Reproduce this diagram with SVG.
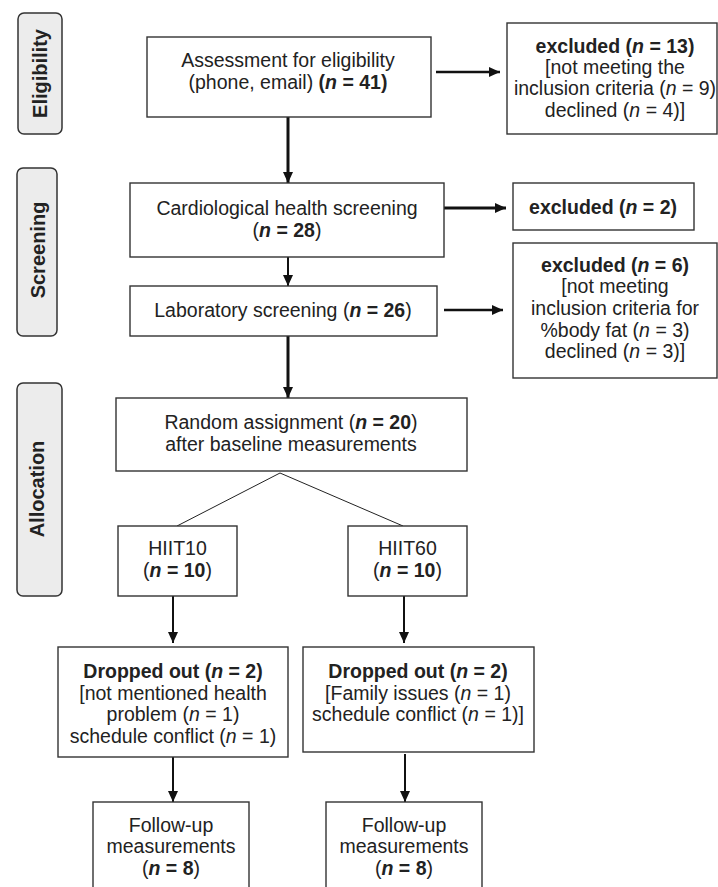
<svg xmlns="http://www.w3.org/2000/svg" width="718" height="887" viewBox="0 0 718 887">
<style>
  .box{fill:#fff;stroke:#333;stroke-width:1.4}
  .lab{fill:#ececec;stroke:#333;stroke-width:1.5}
  .t{font-family:"Liberation Sans",Arial,sans-serif;font-size:19.5px;fill:#222;text-anchor:middle}
  .lt{font-family:"Liberation Sans",Arial,sans-serif;font-size:20px;font-weight:bold;fill:#222;text-anchor:middle}
  .b{font-weight:bold}
  .i{font-style:italic}
  .a{stroke:#111;fill:none}
  .thin{stroke:#222;stroke-width:1;fill:none}
</style>
<defs>
  <marker id="ah" markerUnits="userSpaceOnUse" markerWidth="12" markerHeight="12" viewBox="0 0 12 12" refX="11" refY="6" orient="auto">
    <path d="M0,1 L11,6 L0,11 Z" fill="#111"/>
  </marker>
</defs>

<g id="label-eligibility">
  <rect class="lab" x="18" y="13" width="44" height="121" rx="6"/>
  <text class="lt" transform="translate(47,73.5) rotate(-90)">Eligibility</text>
</g>
<g id="label-screening">
  <rect class="lab" x="17" y="168" width="40" height="168" rx="6"/>
  <text class="lt" transform="translate(45,250) rotate(-90)">Screening</text>
</g>
<g id="label-allocation">
  <rect class="lab" x="17" y="383" width="45" height="213" rx="6"/>
  <text class="lt" transform="translate(44,489) rotate(-90)">Allocation</text>
</g>

<g id="connectors">
  <line class="a" x1="436" y1="72" x2="500" y2="72" stroke-width="2.5" marker-end="url(#ah)"/>
  <line class="a" x1="288" y1="117" x2="288" y2="183" stroke-width="3" marker-end="url(#ah)"/>
  <line class="a" x1="444" y1="208" x2="506" y2="208" stroke-width="3" marker-end="url(#ah)"/>
  <line class="a" x1="288" y1="257" x2="288" y2="286" stroke-width="2" marker-end="url(#ah)"/>
  <line class="a" x1="444" y1="310" x2="503" y2="310" stroke-width="2.5" marker-end="url(#ah)"/>
  <line class="a" x1="288" y1="336" x2="288" y2="398" stroke-width="3" marker-end="url(#ah)"/>
  <polyline class="thin" points="177,526 280,473 403,526"/>
  <line class="a" x1="173" y1="596" x2="173" y2="643" stroke-width="2" marker-end="url(#ah)"/>
  <line class="a" x1="404" y1="596" x2="404" y2="643" stroke-width="2" marker-end="url(#ah)"/>
  <line class="a" x1="173" y1="757" x2="173" y2="802" stroke-width="2" marker-end="url(#ah)"/>
  <line class="a" x1="405" y1="754" x2="405" y2="802" stroke-width="2" marker-end="url(#ah)"/>
</g>

<g id="assessment">
  <rect class="box" x="147" y="37" width="284" height="80"/>
  <text class="t" x="288" y="67">Assessment for eligibility</text>
  <text class="t" x="288" y="89">(phone, email) <tspan class="b">(<tspan class="i">n</tspan> = 41)</tspan></text>
</g>
<g id="excluded13">
  <rect class="box" x="507" y="23" width="210" height="111"/>
  <text class="t" x="615" y="53"><tspan class="b">excluded (<tspan class="i">n</tspan> = 13)</tspan></text>
  <text class="t" x="615" y="74">[not meeting the</text>
  <text class="t" x="615" y="95">inclusion criteria (<tspan class="i">n</tspan> = 9)</text>
  <text class="t" x="615" y="117">declined (<tspan class="i">n</tspan> = 4)]</text>
</g>
<g id="cardio">
  <rect class="box" x="130" y="183" width="314" height="74"/>
  <text class="t" x="287" y="215">Cardiological health screening</text>
  <text class="t" x="287" y="237">(<tspan class="b"><tspan class="i">n</tspan> = 28</tspan>)</text>
</g>
<g id="excluded2">
  <rect class="box" x="513" y="183" width="181" height="47"/>
  <text class="t" x="603" y="214"><tspan class="b">excluded (<tspan class="i">n</tspan> = 2)</tspan></text>
</g>
<g id="lab">
  <rect class="box" x="130" y="286" width="307" height="50"/>
  <text class="t" x="283" y="317">Laboratory screening (<tspan class="b"><tspan class="i">n</tspan> = 26</tspan>)</text>
</g>
<g id="excluded6">
  <rect class="box" x="513" y="243" width="204" height="135"/>
  <text class="t" x="615" y="272"><tspan class="b">excluded (<tspan class="i">n</tspan> = 6)</tspan></text>
  <text class="t" x="615" y="293">[not meeting</text>
  <text class="t" x="615" y="315">inclusion criteria for</text>
  <text class="t" x="615" y="337">%body fat (<tspan class="i">n</tspan> = 3)</text>
  <text class="t" x="615" y="358">declined (<tspan class="i">n</tspan> = 3)]</text>
</g>
<g id="random">
  <rect class="box" x="116" y="398" width="351" height="73"/>
  <text class="t" x="291" y="429">Random assignment (<tspan class="b"><tspan class="i">n</tspan> = 20</tspan>)</text>
  <text class="t" x="291" y="451">after baseline measurements</text>
</g>
<g id="hiit10">
  <rect class="box" x="118" y="526" width="119" height="70"/>
  <text class="t" x="177.5" y="555">HIIT10</text>
  <text class="t" x="177.5" y="577">(<tspan class="b"><tspan class="i">n</tspan> = 10</tspan>)</text>
</g>
<g id="hiit60">
  <rect class="box" x="348" y="526" width="119" height="70"/>
  <text class="t" x="407.5" y="555">HIIT60</text>
  <text class="t" x="407.5" y="577">(<tspan class="b"><tspan class="i">n</tspan> = 10</tspan>)</text>
</g>
<g id="dropped10">
  <rect class="box" x="58" y="647" width="230" height="110"/>
  <text class="t" x="173" y="678"><tspan class="b">Dropped out (<tspan class="i">n</tspan> = 2)</tspan></text>
  <text class="t" x="173" y="700">[not mentioned health</text>
  <text class="t" x="173" y="721">problem (<tspan class="i">n</tspan> = 1)</text>
  <text class="t" x="173" y="743">schedule conflict (<tspan class="i">n</tspan> = 1)</text>
</g>
<g id="dropped60">
  <rect class="box" x="303" y="647" width="231" height="105"/>
  <text class="t" x="418" y="678"><tspan class="b">Dropped out (<tspan class="i">n</tspan> = 2)</tspan></text>
  <text class="t" x="418" y="700">[Family issues (<tspan class="i">n</tspan> = 1)</text>
  <text class="t" x="418" y="721">schedule conflict (<tspan class="i">n</tspan> = 1)]</text>
</g>
<g id="followup10">
  <rect class="box" x="93" y="802" width="156" height="100"/>
  <text class="t" x="171" y="832">Follow-up</text>
  <text class="t" x="171" y="853">measurements</text>
  <text class="t" x="171" y="875">(<tspan class="b"><tspan class="i">n</tspan> = 8</tspan>)</text>
</g>
<g id="followup60">
  <rect class="box" x="326" y="802" width="156" height="100"/>
  <text class="t" x="404" y="832">Follow-up</text>
  <text class="t" x="404" y="853">measurements</text>
  <text class="t" x="404" y="875">(<tspan class="b"><tspan class="i">n</tspan> = 8</tspan>)</text>
</g>
</svg>
